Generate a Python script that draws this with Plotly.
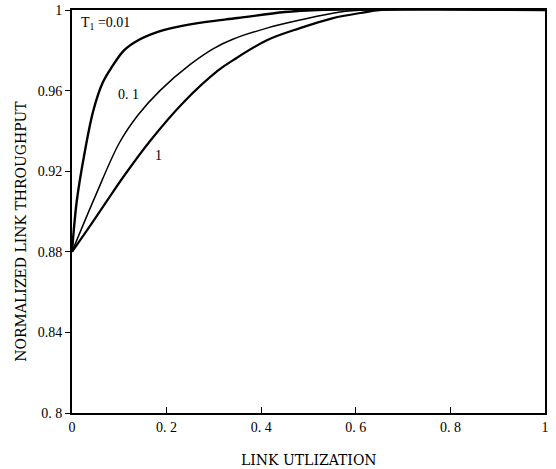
import plotly.graph_objects as go

# Data
x_t001 = [0, 0.01, 0.025, 0.045, 0.065, 0.085, 0.11, 0.14, 0.18, 0.22, 0.28, 0.35, 0.45, 0.52, 1.0]
y_t001 = [0.88, 0.905, 0.927, 0.950, 0.964, 0.972, 0.980, 0.985, 0.989, 0.9915, 0.994, 0.996, 0.999, 1.0, 1.0]

x_t01 = [0, 0.05, 0.1, 0.14, 0.186, 0.25, 0.3, 0.34, 0.412, 0.482, 0.567, 0.63, 1.0]
y_t01 = [0.88, 0.908, 0.934, 0.948, 0.960, 0.973, 0.981, 0.9855, 0.991, 0.995, 0.999, 1.0, 1.0]

x_t1 = [0, 0.04, 0.076, 0.108, 0.165, 0.235, 0.309, 0.34, 0.412, 0.482, 0.552, 0.61, 0.655, 1.0]
y_t1 = [0.88, 0.8935, 0.906, 0.917, 0.935, 0.954, 0.970, 0.975, 0.985, 0.991, 0.996, 0.9985, 1.0, 1.0]

x_tickvals = [0, 0.2, 0.4, 0.6, 0.8, 1]
x_ticktext = ["0", "0. 2", "0. 4", "0. 6", "0. 8", "1"]
y_tickvals = [0.8, 0.84, 0.88, 0.92, 0.96, 1]
y_ticktext = ["0. 8", "0.84", "0.88", "0.92", "0.96", "1"]

x_title = "LINK UTLIZATION"
y_title = "NORMALIZED LINK THROUGHPUT"

font_family = "Liberation Serif"
title_family = "DejaVu Serif"

fig = go.Figure()
for xs, ys, w in [(x_t001, y_t001, 2.4), (x_t01, y_t01, 1.5), (x_t1, y_t1, 2.2)]:
    fig.add_trace(go.Scatter(x=xs, y=ys, mode="lines",
                             line=dict(color="black", width=w, shape="spline", smoothing=1.0),
                             showlegend=False, hoverinfo="skip"))

fig.add_annotation(x=0.015, y=0.9935, xref="x", yref="y", text="T<sub>1</sub> =0.01",
                   showarrow=False, xanchor="left", font=dict(family=font_family, size=14, color="black"))
fig.add_annotation(x=0.12, y=0.958, xref="x", yref="y", text="0. 1",
                   showarrow=False, font=dict(family=font_family, size=14, color="black"))
fig.add_annotation(x=0.182, y=0.928, xref="x", yref="y", text="1",
                   showarrow=False, font=dict(family=font_family, size=14, color="black"))

# axis titles
fig.add_annotation(x=0.5, y=0, xref="paper", yref="paper", text=x_title, showarrow=False,
                   yanchor="middle", yshift=-47,
                   font=dict(family=title_family, size=14, color="black"))
fig.add_annotation(x=0, y=0.45, xref="paper", yref="paper", text=y_title, showarrow=False,
                   textangle=-90, xanchor="center", xshift=-51,
                   font=dict(family=title_family, size=14, color="black"))

fig.update_layout(
    width=556, height=469,
    margin=dict(l=72, r=11, t=10, b=56),
    plot_bgcolor="white", paper_bgcolor="white",
    font=dict(family=font_family, size=13, color="black"),
)
fig.update_xaxes(range=[0, 1], tickvals=x_tickvals, ticktext=x_ticktext,
                 showline=True, linecolor="black", linewidth=2, mirror=True,
                 ticks="inside", ticklen=6, tickcolor="black", showgrid=False, zeroline=False,
                 automargin=False, ticklabeloverflow="allow",
                 tickfont=dict(size=14))
fig.update_yaxes(range=[0.8, 1], tickvals=y_tickvals, ticktext=y_ticktext,
                 showline=True, linecolor="black", linewidth=2, mirror=True,
                 ticks="outside", ticklen=5, tickcolor="black", showgrid=False, zeroline=False,
                 automargin=False,
                 tickfont=dict(size=14))

fig.write_html("out.html", config={"displayModeBar": False},
               post_script="document.body.style.margin='0px';")
